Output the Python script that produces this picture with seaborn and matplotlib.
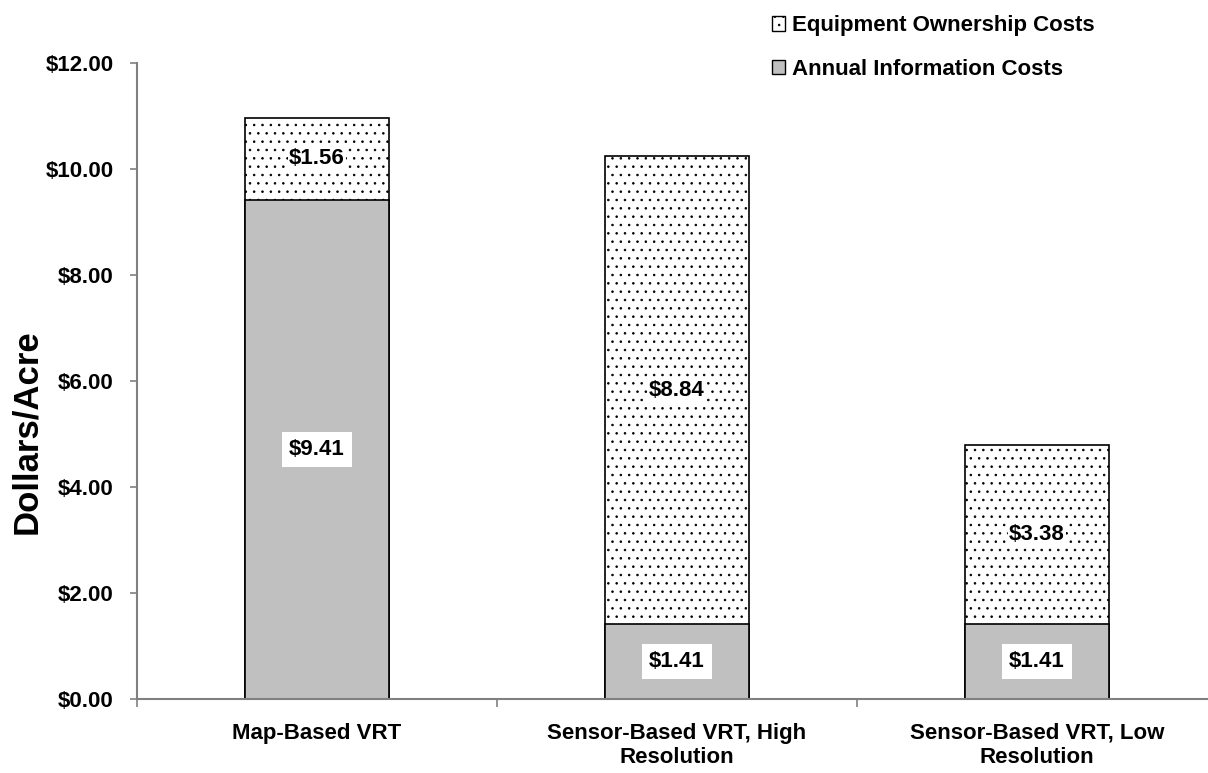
import seaborn as sns
import pandas as pd
import numpy as np
import matplotlib.pyplot as plt
from matplotlib.patches import Patch
from matplotlib.ticker import FuncFormatter, FixedLocator

# chart data
categories = ['Map-Based VRT', 'Sensor-Based VRT, High\nResolution', 'Sensor-Based VRT, Low\nResolution']
annual_info = [9.41, 1.41, 1.41]
equipment_own = [1.56, 8.84, 3.38]

sns.set_style('white')
plt.rcParams['font.family'] = ['Liberation Sans', 'DejaVu Sans']
plt.rcParams['font.weight'] = 'bold'
plt.rcParams['text.color'] = 'black'
plt.rcParams['axes.labelcolor'] = 'black'
plt.rcParams['hatch.linewidth'] = 0.6
plt.rcParams['hatch.color'] = '#505050'

df = pd.DataFrame({'category': categories, 'annual': annual_info, 'equipment': equipment_own})
df['total'] = df['annual'] + df['equipment']

fig = plt.figure(figsize=(12.08, 7.73), dpi=100)
ax = fig.add_axes([137 / 1208, 74 / 773, 1 - 137 / 1208, (699 - 63) / 773])

# equipment on top: draw full stack first, then annual over it
sns.barplot(data=df, x='category', y='total', color='white', saturation=1, width=0.4,
            edgecolor='black', linewidth=1.2, hatch='..', ax=ax)
sns.barplot(data=df, x='category', y='annual', color='#c0c0c0', saturation=1, width=0.4,
            edgecolor='black', linewidth=1.2, ax=ax)

# value labels
for i, row in df.iterrows():
    ax.text(i, row['annual'] / 2, f"${row['annual']:.2f}", ha='center', va='center',
            fontsize=16, fontweight='bold',
            bbox=dict(facecolor='white', edgecolor='none', pad=5))
    ax.text(i, row['annual'] + row['equipment'] / 2, f"${row['equipment']:.2f}",
            ha='center', va='center', fontsize=16, fontweight='bold',
            bbox=dict(facecolor='white', edgecolor='none', pad=1))

ax.set_ylim(0, 12)
ax.set_xlim(-0.5, 2.475)
ax.yaxis.set_major_locator(FixedLocator(np.arange(0, 13, 2)))
ax.yaxis.set_major_formatter(FuncFormatter(lambda v, p: f"${v:.2f}"))
ax.set_xlabel('')
ax.set_ylabel('Dollars/Acre', fontsize=25, fontweight='bold', labelpad=4)
ax.yaxis.set_label_coords(-0.088, 0.42)

ax.set_xticks(range(len(categories)))
ax.set_xticklabels(categories, fontsize=16, fontweight='bold', linespacing=1.2)
ax.set_xticks([0.5, 1.5, -0.5], minor=True)
ax.tick_params(axis='x', which='major', length=0, pad=17, labelcolor='black')
ax.tick_params(axis='x', which='minor', length=6, width=1.2, color='#808080', direction='out', bottom=True)
ax.tick_params(axis='y', length=5, width=1.2, color='#808080', direction='out', left=True,
               labelsize=16, pad=12, labelcolor='black')
for lab in ax.get_yticklabels():
    lab.set_fontweight('bold')

sns.despine(ax=ax, top=True, right=True)
for s in ['left', 'bottom']:
    ax.spines[s].set_color('#808080')
    ax.spines[s].set_linewidth(1.5)

handles = [Patch(facecolor='white', edgecolor='black', hatch='..', label='Equipment Ownership Costs'),
           Patch(facecolor='#c0c0c0', edgecolor='black', label='Annual Information Costs')]
leg = fig.legend(handles=handles, loc='upper left', bbox_to_anchor=(752 / 1208, 1.006),
                 frameon=False, prop={'size': 16, 'weight': 'bold'},
                 handlelength=0.6, handleheight=0.6, handletextpad=0.3, labelspacing=1.0)

fig.savefig('out.png', dpi=100)
